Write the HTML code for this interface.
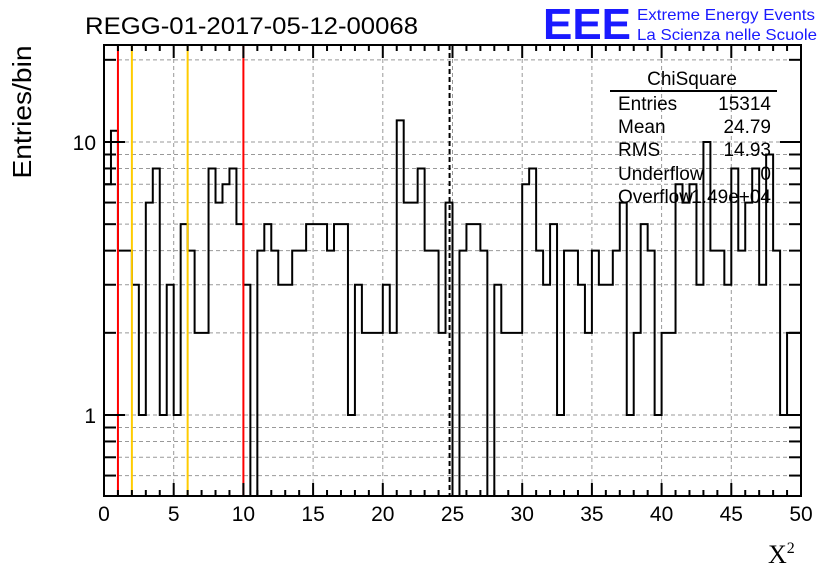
<!DOCTYPE html>
<html><head><meta charset="utf-8"><style>
html,body{margin:0;padding:0;background:#fff;}
svg{display:block;font-family:"Liberation Sans",sans-serif;}
</style></head><body>
<svg id="c" width="836" height="572" viewBox="0 0 836 572">
<rect x="0" y="0" width="836" height="572" fill="#fff"/>
<g id="grid"></g>
<g id="marks"></g>
<g id="axes"></g>
<text x="85" y="34" font-size="24" textLength="333" lengthAdjust="spacingAndGlyphs">REGG-01-2017-05-12-00068</text>
<text x="543" y="39" font-size="44" font-weight="bold" fill="#1a1aff" textLength="88" lengthAdjust="spacingAndGlyphs">EEE</text>
<text x="637" y="20" font-size="16" fill="#1a1aff" textLength="178" lengthAdjust="spacingAndGlyphs">Extreme Energy Events</text>
<text x="637" y="40" font-size="16" fill="#1a1aff" textLength="180" lengthAdjust="spacingAndGlyphs">La Scienza nelle Scuole</text>
<text transform="translate(31,112) rotate(-90)" text-anchor="middle" font-size="26" textLength="133" lengthAdjust="spacingAndGlyphs">Entries/bin</text>
<text x="768" y="563" font-family="'Liberation Serif',serif" font-size="26">X<tspan font-size="16" dy="-10">2</tspan></text>
<g font-size="19">
<text x="692" y="85" text-anchor="middle">ChiSquare</text>
<line x1="610" y1="91" x2="777" y2="91" stroke="#000" stroke-width="2"/>
<text x="618" y="110">Entries</text><text x="771" y="110" text-anchor="end">15314</text>
<text x="618" y="133">Mean</text><text x="771" y="133" text-anchor="end">24.79</text>
<text x="618" y="156">RMS</text><text x="771" y="156" text-anchor="end">14.93</text>
<text x="618" y="180">Underflow</text><text x="771" y="180" text-anchor="end">0</text>
<text x="618" y="203">Overflow</text><text x="771" y="203" text-anchor="end">1.49e+04</text>
</g>
</svg>
<script>
const binCounts = [7,11,4,4,3,1,6,8,1,3,1,5,4,2,2,8,6,7,8,5,3,0,4,5,4,3,3,4,4,5,5,5,4,5,5,1,3,2,2,2,3,2,12,6,6,8,4,4,2,6,0,4,5,5,4,0,3,2,2,2,7,8,4,3,5,1,4,4,3,2,4,3,3,4,6,1,2,5,4,1,2,2,7,6,7,3,10,4,4,3,8,4,6,8,3,9,4,1,2,2];
const xTicks = [0,5,10,15,20,25,30,35,40,45,50];
const yMajor = [1,10];
const yMinor = [0.6,0.7,0.8,0.9,2,3,4,5,6,7,8,9,20];
const redLines = [1,10];
const orangeLines = [2,6];
const meanLine = [24.79];
const binWidth = 0.5;
const L=104,R=801,T=45,B=496;
const X=v=>L+(v-0)/50*(R-L);
const Y=v=>v<=0?B:415-Math.log10(v)*273;
const NS="http://www.w3.org/2000/svg";
function mk(tag,attrs,parent,txt){const e=document.createElementNS(NS,tag);for(const k in attrs)e.setAttribute(k,attrs[k]);if(txt!==undefined)e.textContent=txt;parent.appendChild(e);return e;}
const grid=document.getElementById('grid'),marks=document.getElementById('marks'),axes=document.getElementById('axes');
xTicks.forEach(t=>{if(t>0&&t<50){const g=mk('line',{x1:X(t),x2:X(t),y1:T,y2:B,stroke:'#999','stroke-dasharray':'4,3','stroke-width':1},grid);

}});
yMajor.concat(yMinor).forEach(v=>{const g=mk('line',{x1:L,x2:R,y1:Y(v),y2:Y(v),stroke:'#999','stroke-dasharray':'4,3','stroke-width':1},grid);

});
let d='M'+X(0)+','+Y(binCounts[0]);
binCounts.forEach((c,i)=>{const y=Y(c);if(i>0)d+=' L'+X(i*binWidth)+','+y;d+=' L'+X((i+1)*binWidth)+','+y;});
const h=mk('path',{d:d,fill:'none',stroke:'#000','stroke-width':2},marks);


redLines.forEach(v=>{const l=mk('line',{x1:X(v),x2:X(v),y1:T,y2:B,stroke:'#f00','stroke-width':2},marks);

});
orangeLines.forEach(v=>{const l=mk('line',{x1:X(v),x2:X(v),y1:T,y2:B,stroke:'#fc0','stroke-width':2},marks);

});
meanLine.forEach(v=>{const l=mk('line',{x1:X(v),x2:X(v),y1:T,y2:B,stroke:'#000','stroke-width':2,'stroke-dasharray':'5,3'},marks);

});
const f=mk('rect',{x:L,y:T,width:R-L,height:B-T,fill:'none',stroke:'#000','stroke-width':2},axes);


for(let t=0;t<=50;t++){const len=t%5===0?13:6;
const a=mk('line',{x1:X(t),x2:X(t),y1:B,y2:B-len,stroke:'#000','stroke-width':2},axes);


const b=mk('line',{x1:X(t),x2:X(t),y1:T,y2:T+len,stroke:'#000','stroke-width':2},axes);

}
xTicks.forEach(t=>{const tx=mk('text',{x:X(t),y:521,'text-anchor':'middle','font-size':21},axes,String(t));

});
yMajor.concat(yMinor).forEach(v=>{const len=yMajor.includes(v)?21:12;
const a=mk('line',{x1:L,x2:L+len,y1:Y(v),y2:Y(v),stroke:'#000','stroke-width':2},axes);


const b=mk('line',{x1:R,x2:R-len,y1:Y(v),y2:Y(v),stroke:'#000','stroke-width':2},axes);

});
yMajor.forEach(v=>{const tx=mk('text',{x:96,y:Y(v)+8,'text-anchor':'end','font-size':21},axes,String(v));

});
</script>
</body></html>
